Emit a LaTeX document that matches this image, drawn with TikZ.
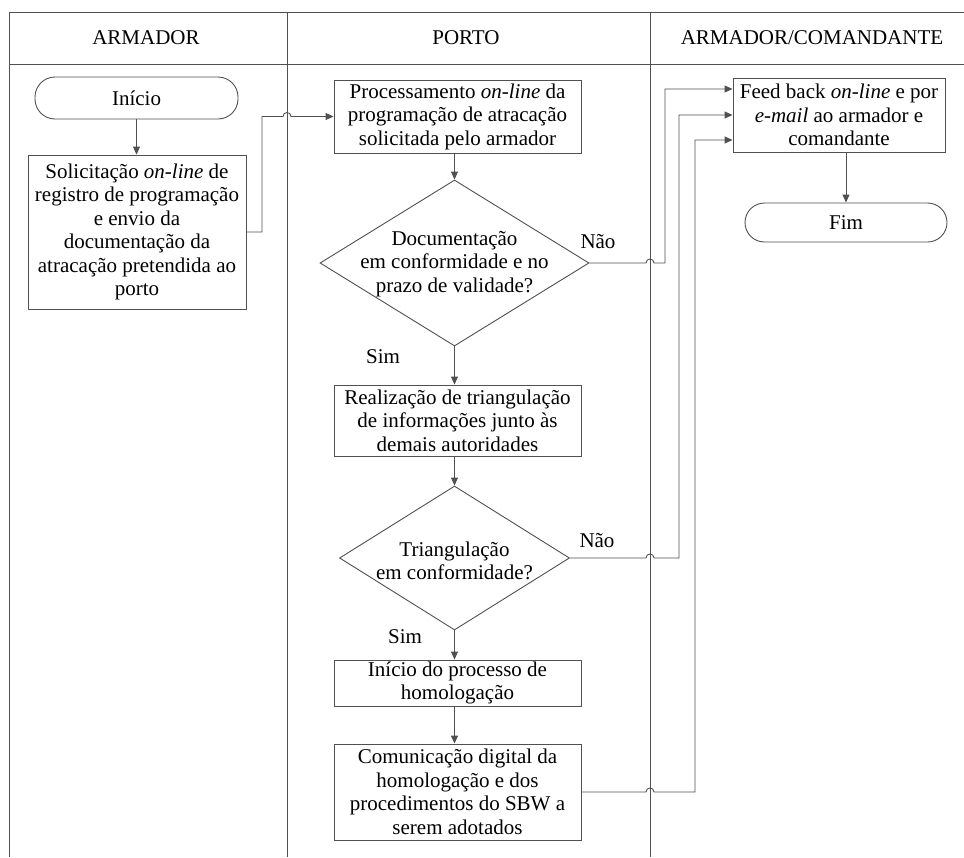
\documentclass[tikz,border=0pt]{standalone}
\usepackage{fontspec}
\setmainfont{Liberation Serif}
\usetikzlibrary{shapes.geometric,arrows.meta}
\definecolor{ln}{RGB}{80,80,80}
\begin{document}
\begin{tikzpicture}[x=1pt,y=-1pt,
 every node/.style={font=\fontsize{21}{23.5}\selectfont,align=center},
 box/.style={draw=ln,line width=0.9pt,inner sep=0pt,align=center},
 term/.style={box,rounded corners=20pt},
 dia/.style={draw=ln,line width=0.9pt,diamond,inner sep=0pt},
 conn/.style={draw=ln,line width=0.9pt},
 arr/.style={conn,-{Triangle[length=8pt,width=7pt]}},
 lane/.style={draw=ln,line width=0.9pt}]
\useasboundingbox (0,0) rectangle (964,857);
% lanes
\draw[lane] (964,12) -- (9,12) -- (9,857);
\draw[lane] (9,64) -- (964,64);
\draw[lane] (287,12) -- (287,857);
\draw[lane] (650,12) -- (650,857);
\node (h1) at (146,38) {ARMADOR};
\node (h2) at (466,38) {PORTO};
\node (h3) at (812,38) {ARMADOR/COMANDANTE};
% nodes
\node[term, minimum width=203pt, minimum height=42pt] (ini) at (136.5,98) {Início};
\node[box, minimum width=218pt, minimum height=154pt] (sol) at (137,232) {Solicitação \emph{on-line} de\\registro de programação\\e envio da\\documentação da\\atracação pretendida ao\\porto};
\node[box, minimum width=247pt, minimum height=73pt] (proc) at (457.5,116.5) {Processamento \emph{on-line} da\\programação de atracação\\solicitada pelo armador};
\node[dia, minimum width=269pt, minimum height=166pt] (d1) at (454.5,263) {};
\node (d1t) at (454.5,264) {Documentação\\em conformidade e no\\prazo de validade?};
\node (sim1) at (383,357) {Sim};
\node (nao1) at (598,242) {Não};
\node[box, minimum width=247pt, minimum height=71pt] (real) at (457.5,420.5) {Realização de triangulação\\de informações junto às\\demais autoridades};
\node[dia, minimum width=230pt, minimum height=144pt] (d2) at (454.5,558) {};
\node (d2t) at (454.5,561) {Triangulação\\em conformidade?};
\node (nao2) at (597,541) {Não};
\node (sim2) at (405,637) {Sim};
\node[box, minimum width=247pt, minimum height=46pt] (hom) at (457.5,683) {Início do processo de\\homologação};
\node[box, minimum width=247pt, minimum height=96pt] (com) at (457.5,792) {Comunicação digital da\\homologação e dos\\procedimentos do SBW a\\serem adotados};
\node[box, minimum width=212pt, minimum height=74pt] (fb) at (839,115) {Feed back \emph{on-line} e por\\\emph{e-mail} ao armador e\\comandante};
\node[term, minimum width=202pt, minimum height=39pt, rounded corners=19.5pt] (fim) at (846,222.5) {Fim};
% connectors
\draw[arr] (ini.south) -- (ini.south |- sol.north);
\draw[arr] (sol.east) -- (262,232) -- (262,116.5) -- (283,116.5) .. controls (283,111.2) and (291,111.2) .. (291,116.5) -- (proc.west);
\draw[arr] (d1.north |- proc.south) -- (d1.north);
\draw[arr] (d1.south) -- (d1.south |- real.north);
\draw[arr] (d1.south |- real.south) -- (d2.north);
\draw[arr] (d2.south) -- (d2.south |- hom.north);
\draw[arr, line width=1.6pt] (d2.south |- hom.south) -- (d2.south |- com.north);
\draw[arr] (d1.east) -- (646,263) .. controls (646,257.7) and (654,257.7) .. (654,263) -- (665,263) |- ([yshift=26pt]fb.west);
\draw[arr] (d2.east) -- (646,558) .. controls (646,552.7) and (654,552.7) .. (654,558) -- (679,558) |- (fb.west);
\draw[arr] (com.east) -- (646,792) .. controls (646,786.7) and (654,786.7) .. (654,792) -- (695,792) |- ([yshift=-25pt]fb.west);
\draw[arr] (fim.north |- fb.south) -- (fim.north);
\end{tikzpicture}
\end{document}
